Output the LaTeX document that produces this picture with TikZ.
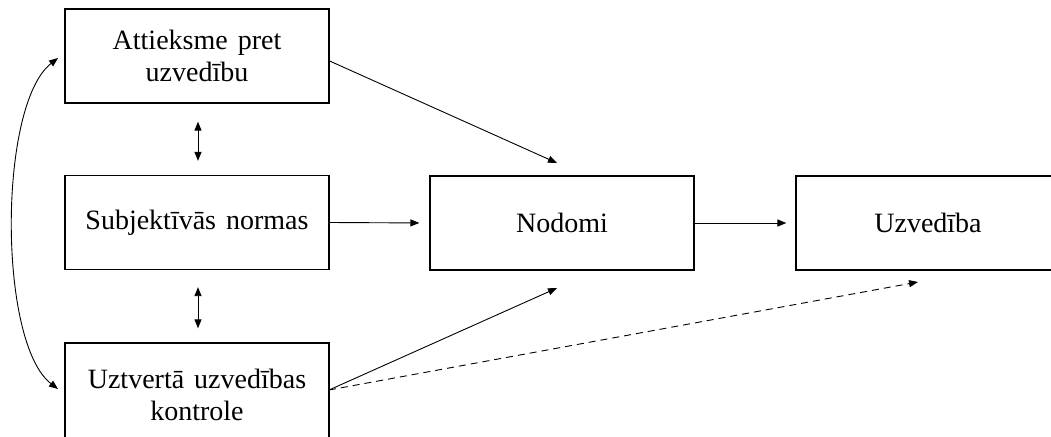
\documentclass[tikz,border=0pt]{standalone}
\usepackage{fontspec}
\setmainfont{Liberation Serif}
\usetikzlibrary{arrows.meta}
\newcommand{\wsp}{\hspace{10pt}}
\begin{document}
\begin{tikzpicture}[x=1pt,y=-1pt,
  box/.style={draw=black,line width=1.3pt,minimum width=264pt,minimum height=94pt,
    inner sep=0pt,align=center,font=\fontsize{28}{32}\selectfont},
  conn/.style={line width=0.9pt,-{Triangle[length=9pt,width=7pt]}},
  dconn/.style={conn,dash pattern=on 7pt off 5pt},
  bconn/.style={line width=0.9pt,{Triangle[length=9pt,width=7pt]}-{Triangle[length=9pt,width=7pt]}}]
\clip (0,0) rectangle (1051,436);
\useasboundingbox (0,0) rectangle (1051,436);
\node[box] (att) at (197,56) {Attieksme\wsp pret\\uzvedību};
\node[box] (sub) at (197,222.5) {Subjektīvās\wsp normas};
\node[box,minimum height=103pt] (uzt) at (197,394.5) {Uztvertā\wsp uzvedības\\kontrole};
\node[box] (nod) at (562,223) {Nodomi};
\node[box] (uzv) at (928,223) {Uzvedība};
\coordinate (s3) at (329,390);
\coordinate (t1) at (557,163);
\coordinate (t2) at (557,288);
\coordinate (t3) at (918,282);
\coordinate (c1) at (58,58);
\coordinate (c2) at (58,389);
\draw[conn] ([yshift=-5pt]att.east) -- (t1);
\draw[conn,shorten >=10pt] (sub.east) -- (nod.west);
\draw[conn,shorten >=9pt] (nod.east) -- (uzv.west);
\draw[conn] (s3) -- (t2);
\draw[dconn] (s3) -- (t3);
\draw[bconn,shorten <=18pt,shorten >=14pt] ([xshift=1pt]att.south) -- ([xshift=1pt]sub.north);
\draw[bconn,shorten <=17pt,shorten >=14pt] ([xshift=1pt]sub.south) -- ([xshift=1pt]uzt.north);
\draw[bconn] (c1) .. controls (-2,105) and (-2,343) .. (c2);
\end{tikzpicture}
\end{document}
